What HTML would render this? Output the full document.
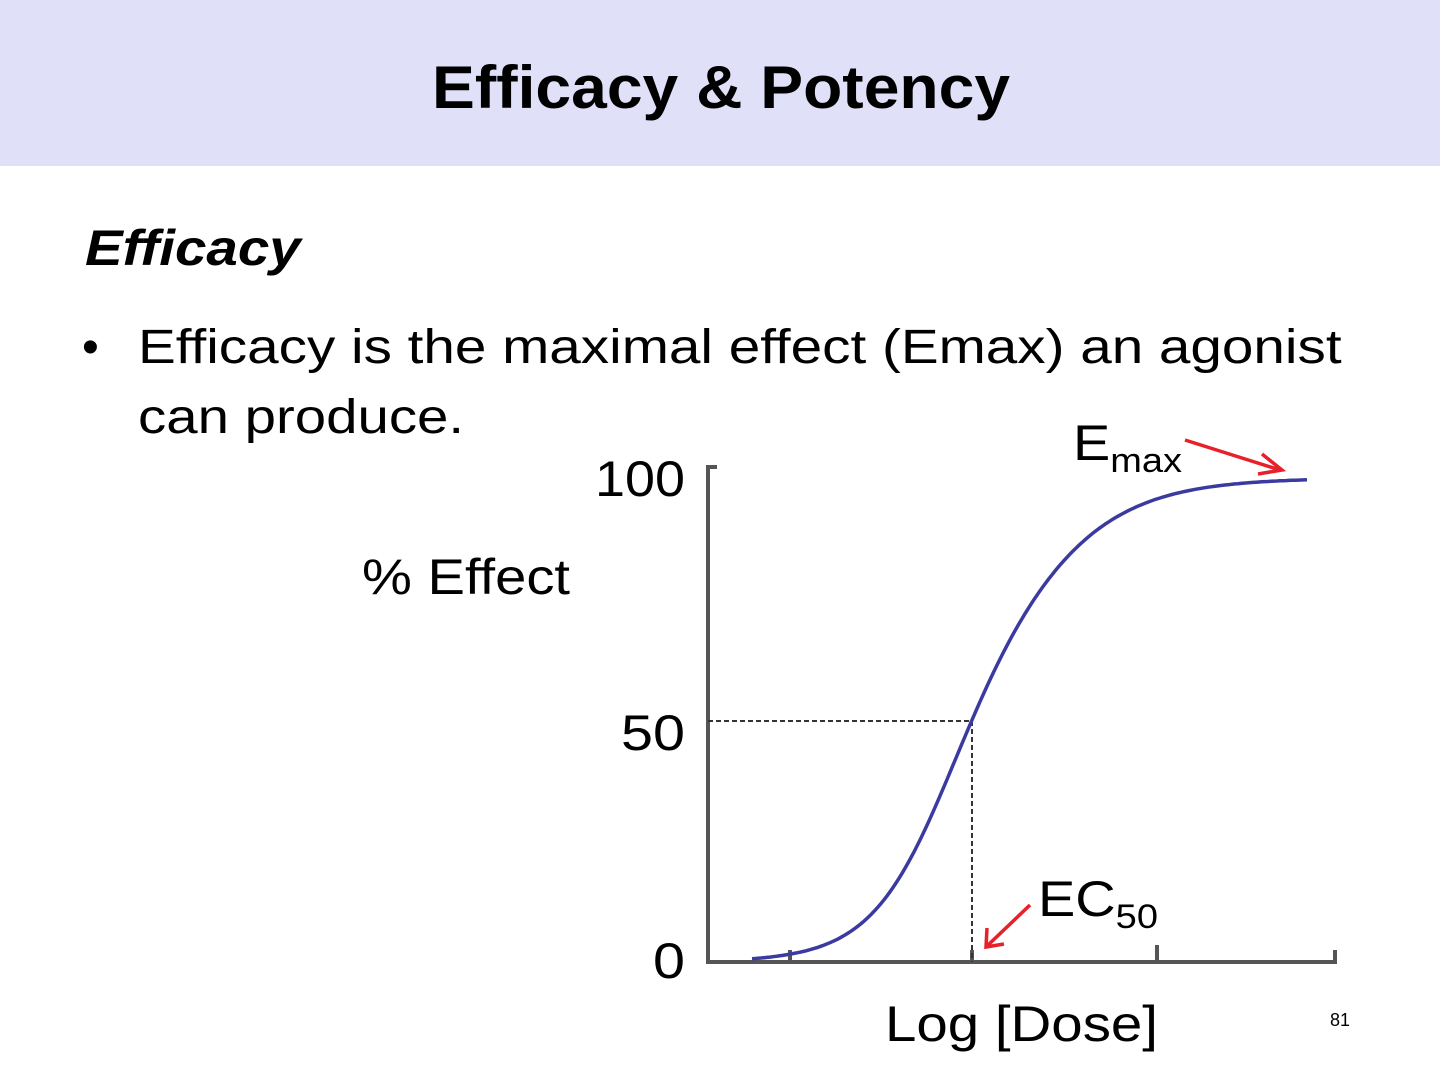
<!DOCTYPE html>
<html><head><meta charset="utf-8"><style>
html,body{margin:0;padding:0;background:#fff}
body{width:1440px;height:1086px;position:relative;overflow:hidden;font-family:"Liberation Sans",sans-serif;color:#000}
.hdr{position:absolute;left:0;top:0;width:1440px;height:166px;background:#e0e0f8}
.t{position:absolute;white-space:nowrap;transform-origin:0 0}
</style></head><body>
<div class="hdr"></div>
<div class="t" style="left:432px;top:52px;font-size:60px;font-weight:bold;line-height:72px;transform:scaleX(1.07)">Efficacy &amp; Potency</div>
<div class="t" style="left:85px;top:218px;font-size:50px;font-weight:bold;font-style:italic;line-height:60px;transform:scaleX(1.13)">Efficacy</div>
<div class="t" style="left:82px;top:318px;font-size:48px;line-height:60px">•</div>
<div class="t" style="left:138px;top:318px;font-size:48px;line-height:60px;transform:scaleX(1.18)">Efficacy is the maximal effect (Emax) an agonist</div>
<div class="t" style="left:138px;top:388px;font-size:48px;line-height:60px;transform:scaleX(1.175)">can produce.</div>
<svg width="1440" height="1086" style="position:absolute;left:0;top:0">
<g font-family="Liberation Sans, sans-serif" font-size="50" fill="#000">
<text x="595" y="496" textLength="90" lengthAdjust="spacingAndGlyphs">100</text>
<text x="621" y="750" textLength="64" lengthAdjust="spacingAndGlyphs">50</text>
<text x="653" y="978" textLength="32" lengthAdjust="spacingAndGlyphs">0</text>
<text x="362" y="594" textLength="208" lengthAdjust="spacingAndGlyphs">% Effect</text>
<text x="885" y="1041" textLength="273" lengthAdjust="spacingAndGlyphs">Log [Dose]</text>
<text x="1073" y="460" textLength="109" lengthAdjust="spacingAndGlyphs">E<tspan font-size="34" dy="12">max</tspan></text>
<text x="1038" y="916" textLength="120" lengthAdjust="spacingAndGlyphs">EC<tspan font-size="34" dy="12">50</tspan></text>
<text x="1330" y="1026" font-size="18">81</text>
</g>
<g stroke="#555" stroke-width="4" fill="none">
<path d="M717 467 H708 V962 H1335 V950"/>
<path d="M790 962 V950 M972 962 V950 M1157 962 V945"/>
</g>
<path d="M708 721 H972 V962" stroke="#333" stroke-width="2" stroke-dasharray="5,3" fill="none"/>
<path id="c" stroke="#3a3aa0" stroke-width="3.5" fill="none"/>
<g stroke="#e8202a" stroke-width="3.5" fill="none">
<path d="M1185 440 L1280 470 M1262 454 L1282 470 L1258 474"/>
<path d="M1030 905 L987 946 M987 928 L986 947 L1004 944"/>
</g>
</svg>
<script>
var d="";for(var x=752;x<=1307;x+=3){var k=52+8*Math.tanh((x-972)/90);var y=962-484/(1+Math.exp(-(x-972)/k));d+=(x==752?"M":"L")+x+" "+y.toFixed(1)+" ";}
document.getElementById("c").setAttribute("d",d);
</script>
</body></html>
